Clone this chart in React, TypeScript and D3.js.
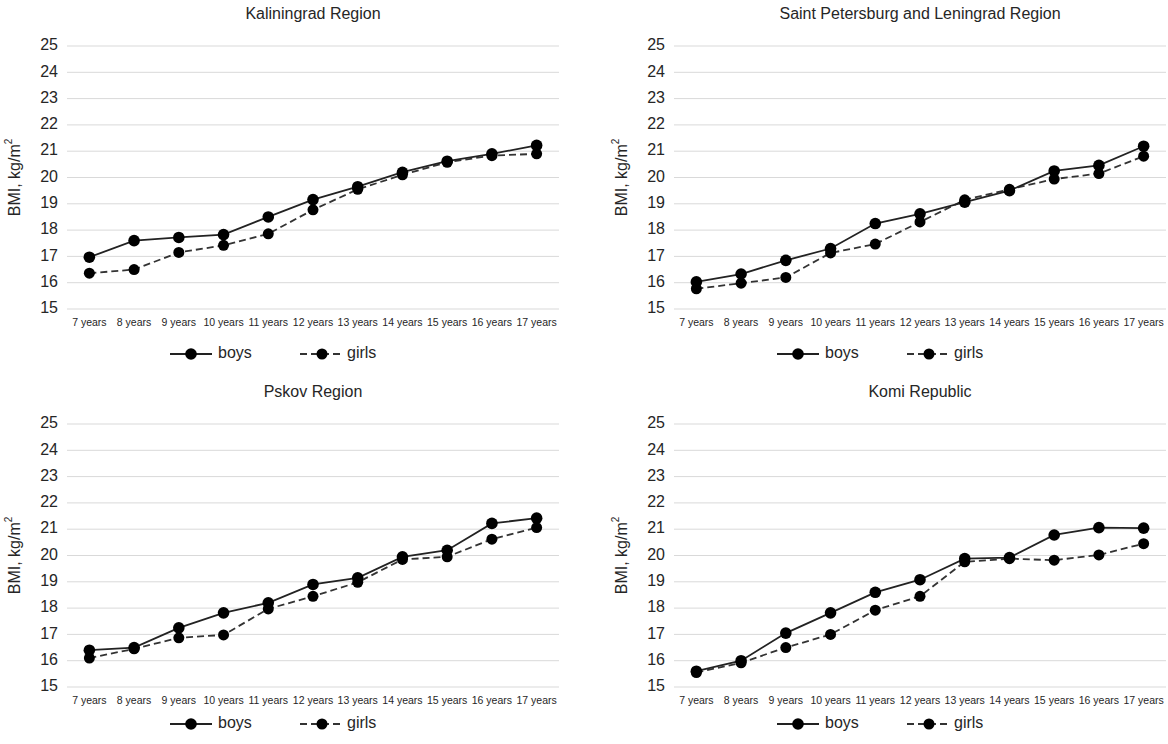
import React from "react";
import * as d3 from "d3";

const ages = ["7 years", "8 years", "9 years", "10 years", "11 years", "12 years", "13 years", "14 years", "15 years", "16 years", "17 years"];
const yTicks = [15, 16, 17, 18, 19, 20, 21, 22, 23, 24, 25];

const kaliningradBoys = [16.97, 17.6, 17.72, 17.83, 18.5, 19.16, 19.65, 20.2, 20.62, 20.9, 21.22];
const kaliningradGirls = [16.36, 16.5, 17.15, 17.42, 17.86, 18.77, 19.55, 20.1, 20.58, 20.83, 20.9];
const petersburgBoys = [16.03, 16.33, 16.85, 17.3, 18.25, 18.62, 19.06, 19.5, 20.25, 20.46, 21.19];
const petersburgGirls = [15.77, 15.98, 16.2, 17.13, 17.47, 18.31, 19.15, 19.55, 19.94, 20.15, 20.81];
const pskovBoys = [16.4, 16.5, 17.25, 17.82, 18.2, 18.9, 19.15, 19.95, 20.2, 21.22, 21.42];
const pskovGirls = [16.1, 16.45, 16.87, 16.98, 17.97, 18.45, 18.98, 19.85, 19.95, 20.62, 21.06];
const komiBoys = [15.6, 16.0, 17.05, 17.82, 18.6, 19.08, 19.88, 19.92, 20.78, 21.06, 21.04];
const komiGirls = [15.55, 15.92, 16.5, 17.0, 17.92, 18.45, 19.76, 19.88, 19.82, 20.02, 20.45];

const FONT = "'Liberation Sans', Arial, Helvetica, sans-serif";
const PLOT_W = 492;
const PLOT_H = 263;

type PanelProps = {
  title: string;
  boys: number[];
  girls: number[];
  left: number;
  top: number;
  legendGap: number;
};

const Panel = ({ title, boys, girls, left, top, legendGap }: PanelProps) => {
  const x = d3.scaleBand<string>().domain(ages).range([left, left + PLOT_W]);
  const y = d3.scaleLinear().domain([15, 25]).range([top + PLOT_H, top]);
  const cx = (i: number) => (x(ages[i]) as number) + x.bandwidth() / 2;
  const line = d3
    .line<number>()
    .x((_, i) => cx(i))
    .y((d) => y(d));

  const legendY = top + PLOT_H + legendGap;
  const lx = left + 103;

  return (
    <g>
      {/* title */}
      <text
        x={left + PLOT_W / 2}
        y={top - 31}
        textAnchor="middle"
        dominantBaseline="middle"
        fontSize={16}
        fill="#262626"
      >
        {title}
      </text>

      {/* grid + y ticks */}
      {yTicks.map((t) => (
        <g key={t}>
          <line x1={left} x2={left + PLOT_W} y1={y(t)} y2={y(t)} stroke="#d9d9d9" strokeWidth={1} />
          <text x={left - 9} y={y(t)} textAnchor="end" dominantBaseline="middle" fontSize={16} fill="#262626">
            {t}
          </text>
        </g>
      ))}

      {/* y title */}
      <text
        transform={`translate(${left - 51}, ${top + PLOT_H / 2}) rotate(-90)`}
        textAnchor="middle"
        dominantBaseline="middle"
        fontSize={16}
        fill="#262626"
      >
        BMI, kg/m
        <tspan fontSize={10} dy={-7}>2</tspan>
      </text>

      {/* x labels */}
      {ages.map((a, i) => (
        <text key={a} x={cx(i)} y={top + PLOT_H + 14} textAnchor="middle" dominantBaseline="middle" fontSize={10.5} fill="#262626">
          {a}
        </text>
      ))}

      {/* series */}
      <path d={line(girls) || ""} fill="none" stroke="#333" strokeWidth={1.8} strokeDasharray="7,4" />
      <path d={line(boys) || ""} fill="none" stroke="#222" strokeWidth={1.8} />
      {girls.map((d, i) => (
        <circle key={"g" + i} cx={cx(i)} cy={y(d)} r={5.5} fill="#000" />
      ))}
      {boys.map((d, i) => (
        <circle key={"b" + i} cx={cx(i)} cy={y(d)} r={5.8} fill="#000" />
      ))}

      {/* legend */}
      <line x1={lx} x2={lx + 42} y1={legendY} y2={legendY} stroke="#222" strokeWidth={1.8} />
      <circle cx={lx + 21} cy={legendY} r={5.8} fill="#000" />
      <text x={lx + 48} y={legendY} dominantBaseline="middle" fontSize={16} fill="#262626">
        boys
      </text>
      <line x1={lx + 130} x2={lx + 172} y1={legendY} y2={legendY} stroke="#333" strokeWidth={1.8} strokeDasharray="7,4" />
      <circle cx={lx + 152} cy={legendY} r={5.5} fill="#000" />
      <text x={lx + 177} y={legendY} dominantBaseline="middle" fontSize={16} fill="#262626">
        girls
      </text>
    </g>
  );
};

export default function App() {
  return (
    <div style={{ position: "fixed", left: 0, top: 0 }}>
      <svg width={1168} height={744} fontFamily={FONT} style={{ display: "block", background: "#fff" }}>
        <Panel title="Kaliningrad Region" boys={kaliningradBoys} girls={kaliningradGirls} left={67} top={46} legendGap={45} />
        <Panel title="Saint Petersburg and Leningrad Region" boys={petersburgBoys} girls={petersburgGirls} left={674} top={46} legendGap={45} />
        <Panel title="Pskov Region" boys={pskovBoys} girls={pskovGirls} left={67} top={424} legendGap={37} />
        <Panel title="Komi Republic" boys={komiBoys} girls={komiGirls} left={674} top={424} legendGap={37} />
      </svg>
    </div>
  );
}
